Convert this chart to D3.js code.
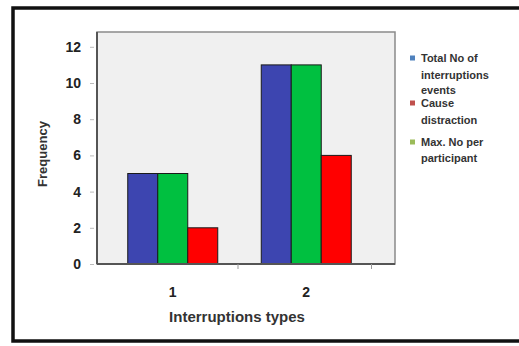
<!DOCTYPE html>
<html>
<head>
<meta charset="utf-8">
<script src="https://cdn.jsdelivr.net/npm/d3@7"></script>
<style>
  body { margin: 0; background: #fff; }
  text { font-family: "Liberation Sans", Arial, sans-serif; font-weight: bold; }
</style>
</head>
<body>
<svg id="chart" width="519" height="346"></svg>
<script>
// data
var categories = ["1", "2"];
var totalEvents = [5, 11];
var maxPerParticipant = [5, 11];
var causeDistraction = [2, 6];
var yTicks = [0, 2, 4, 6, 8, 10, 12];

var barSeries = [
  { name: "Total No of interruptions events", values: totalEvents, fill: "#3d45b0" },
  { name: "Max. No per participant", values: maxPerParticipant, fill: "#00c040" },
  { name: "Cause distraction", values: causeDistraction, fill: "#ff0000" }
];

var legendItems = [
  { lines: ["Total No of", "interruptions", "events"], color: "#4f81bd", y: 58, gap: [0, 17, 32] },
  { lines: ["Cause", "distraction"], color: "#c0504d", y: 103, gap: [0, 17] },
  { lines: ["Max. No per", "participant"], color: "#9bbb59", y: 142, gap: [0, 16] }
];

var svg = d3.select("#chart");

// outer frame
svg.append("rect")
  .attr("x", 13).attr("y", 8)
  .attr("width", 530).attr("height", 333)
  .style("fill", "none")
  .style("stroke", "#111")
  .style("stroke-width", 3.5);

var plot = { left: 97, right: 395, top: 32, bottom: 264 };

var y = d3.scaleLinear().domain([0, 12]).range([plot.bottom, 46.8]);
var x = d3.scaleBand().domain(categories).range([106, 373]).paddingInner(0);
var barW = 30;

// plot background
svg.append("rect")
  .attr("x", plot.left).attr("y", plot.top)
  .attr("width", plot.right - plot.left).attr("height", plot.bottom - plot.top)
  .style("fill", "#f0f0f0")
  .style("stroke", "#8a8a8a")
  .style("stroke-width", 1.5);

// bars
barSeries.forEach(function(s, si) {
  svg.selectAll(".bar" + si)
    .data(s.values)
    .enter().append("rect")
    .attr("class", "bar" + si)
    .attr("x", function(d, i) { return x(categories[i]) + x.bandwidth() / 2 - 1.5 * barW + si * barW; })
    .attr("y", function(d) { return y(d); })
    .attr("width", barW)
    .attr("height", function(d) { return plot.bottom - y(d); })
    .style("fill", s.fill)
    .style("stroke", "#1a1a1a")
    .style("stroke-width", 1);
});

// y axis
var yAxis = d3.axisLeft(y).tickValues(yTicks).tickSize(4).tickPadding(9);
var gy = svg.append("g")
  .attr("transform", "translate(" + (plot.left - 3) + ",0)")
  .call(yAxis);
gy.select(".domain").remove();
gy.selectAll(".tick line").style("stroke", "#bbb");
gy.selectAll(".tick text").style("font-size", "14px").style("fill", "#222");

svg.append("line")
  .attr("x1", plot.left).attr("x2", plot.left)
  .attr("y1", plot.top).attr("y2", plot.bottom)
  .style("stroke", "#555").style("stroke-width", 2);

// x axis
svg.append("line")
  .attr("x1", plot.left).attr("x2", plot.right)
  .attr("y1", plot.bottom).attr("y2", plot.bottom)
  .style("stroke", "#555").style("stroke-width", 2);

svg.selectAll(".xtick")
  .data(categories)
  .enter().append("line")
  .attr("class", "xtick")
  .attr("x1", function(d) { return x(d) + x.bandwidth() - 1.5; })
  .attr("x2", function(d) { return x(d) + x.bandwidth() - 1.5; })
  .attr("y1", plot.bottom).attr("y2", plot.bottom + 5)
  .style("stroke", "#999");

svg.selectAll(".xlabel")
  .data(categories)
  .enter().append("text")
  .attr("class", "xlabel")
  .attr("x", function(d) { return x(d) + x.bandwidth() / 2; })
  .attr("y", 297)
  .attr("text-anchor", "middle")
  .style("font-size", "14px")
  .style("fill", "#222")
  .text(function(d) { return d; });

svg.append("text")
  .attr("x", 237).attr("y", 322)
  .attr("text-anchor", "middle")
  .style("font-size", "15px")
  .style("fill", "#333")
  .text("Interruptions types");

svg.append("text")
  .attr("transform", "translate(47,154) rotate(-90)")
  .attr("text-anchor", "middle")
  .style("font-size", "13px")
  .style("fill", "#333")
  .text("Frequency");

// legend
legendItems.forEach(function(item) {
  svg.append("rect")
    .attr("x", 410).attr("y", item.y - 2.5)
    .attr("width", 5).attr("height", 5)
    .style("fill", item.color);
  item.lines.forEach(function(line, li) {
    svg.append("text")
      .attr("x", 421).attr("y", item.y + item.gap[li] + 4)
      .style("font-size", "11px")
      .style("fill", "#333")
      .text(line);
  });
});
</script>
</body>
</html>
